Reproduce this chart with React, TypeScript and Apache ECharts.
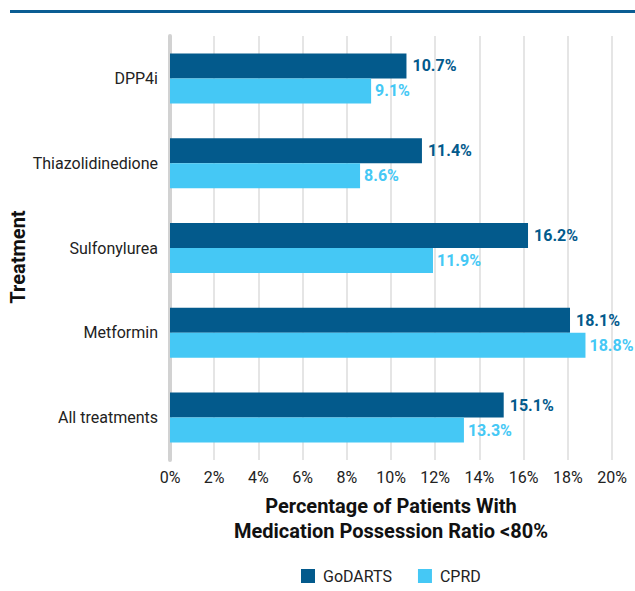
import React, { useEffect, useRef } from "react";
import * as echarts from "echarts";

const categories = ["DPP4i", "Thiazolidinedione", "Sulfonylurea", "Metformin", "All treatments"];
const godarts = [10.7, 11.4, 16.2, 18.1, 15.1];
const cprd = [9.1, 8.6, 11.9, 18.8, 13.3];
const xTicks = [0, 2, 4, 6, 8, 10, 12, 14, 16, 18, 20];

const DARK = "#035a8c";
const LIGHT = "#45c8f5";
const FONT = "Roboto, 'Noto Sans', sans-serif";

export default function App() {
  const ref = useRef<HTMLDivElement>(null);

  useEffect(() => {
    document.body.style.margin = "0";
    if (!ref.current) return;
    const chart = echarts.init(ref.current, null, { renderer: "svg" });
    chart.setOption({
      animation: false,
      textStyle: { fontFamily: FONT },
      grid: { left: 170, right: 23, top: 36, height: 424, containLabel: false },
      graphic: [
        { type: "rect", shape: { x: 10, y: 10, width: 625, height: 3 }, style: { fill: "#0b5d93" } },
        {
          type: "text",
          x: 18,
          y: 257,
          rotation: Math.PI / 2,
          style: {
            text: "Treatment",
            fontFamily: FONT,
            fontSize: 20,
            fontWeight: "bold",
            fill: "#111",
            align: "center",
            verticalAlign: "middle",
          },
        },
      ],
      legend: {
        bottom: 2,
        left: 296,
        itemWidth: 14,
        itemHeight: 14,
        itemGap: 26,
        icon: "rect",
        textStyle: { fontFamily: FONT, fontSize: 16, color: "#222", padding: [0, 0, 0, 3] },
        data: ["GoDARTS", "CPRD"],
      },
      xAxis: {
        type: "value",
        min: 0,
        max: 20,
        interval: 2,
        axisLine: { show: false },
        axisTick: { show: false },
        splitLine: { show: true, lineStyle: { color: "#dcdcdc", width: 1.5 } },
        axisLabel: {
          formatter: (v: number) => (xTicks.includes(v) ? `${v}%` : ""),
          fontSize: 16,
          color: "#222",
          margin: 9,
        },
        name: "Percentage of Patients With\nMedication Possession Ratio <80%",
        nameLocation: "middle",
        nameGap: 33,
        nameTextStyle: { fontSize: 20, fontWeight: "bold", color: "#111", lineHeight: 25, verticalAlign: "top" },
      },
      yAxis: {
        type: "category",
        data: categories,
        inverse: true,
        axisLine: { show: true, lineStyle: { color: "#d2d2d2", width: 4 } },
        axisTick: { show: false },
        axisLabel: { fontSize: 16, color: "#222", margin: 12 },
      },
      series: [
        {
          name: "GoDARTS",
          type: "bar",
          data: godarts,
          barWidth: 25,
          barGap: "0%",
          itemStyle: { color: DARK },
          label: {
            show: true,
            position: "right",
            formatter: (p: any) => `${p.value}%`,
            fontSize: 16,
            fontWeight: "bold",
            color: DARK,
            distance: 6,
          },
        },
        {
          name: "CPRD",
          type: "bar",
          data: cprd,
          barWidth: 25,
          barGap: "0%",
          itemStyle: { color: LIGHT },
          label: {
            show: true,
            position: "right",
            formatter: (p: any) => `${p.value}%`,
            fontSize: 16,
            fontWeight: "bold",
            color: LIGHT,
            distance: 4,
          },
        },
      ],
    });
    return () => chart.dispose();
  }, []);

  return <div ref={ref} style={{ width: 635, height: 591 }} />;
}
